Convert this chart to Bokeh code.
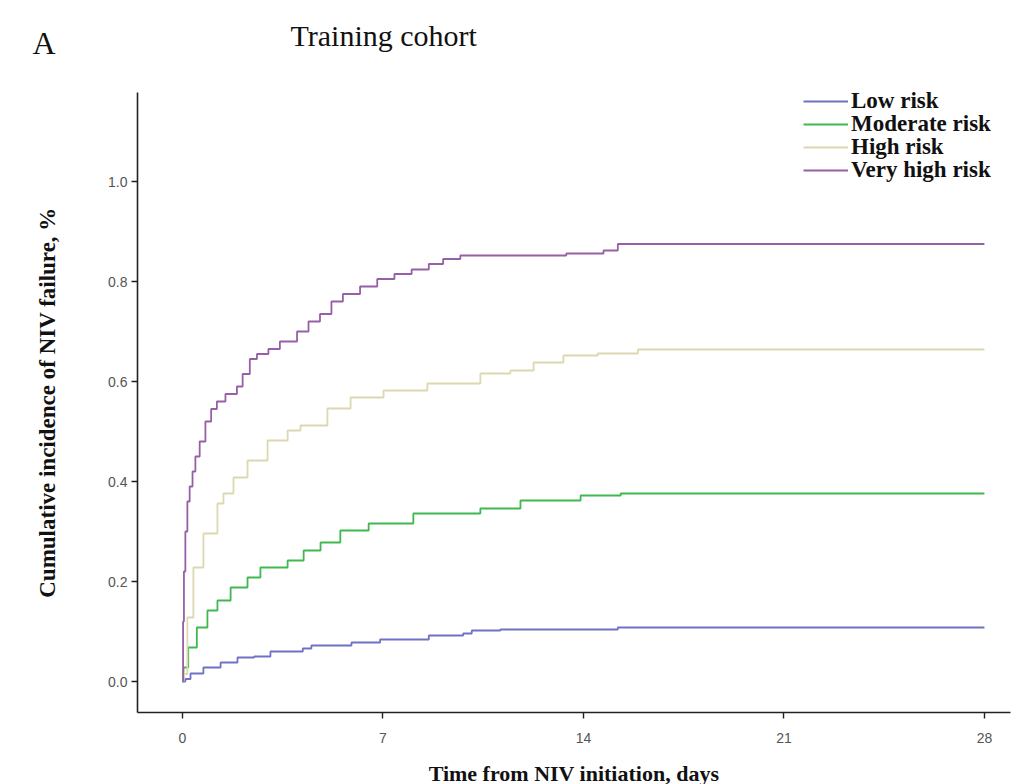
from bokeh.plotting import figure
from bokeh.models import Range1d, Label, Legend, LegendItem, FixedTicker
from bokeh.embed import file_html
from bokeh.resources import INLINE

# Cumulative incidence of NIV failure by risk group (step curves)
low_t = [0, 0.1, 0.28, 0.73, 1.33, 1.92, 2.5, 3.07, 4.2, 4.5, 5.9, 6.9, 8.6, 9.8, 10.1, 11.1, 15.2, 28]
low_y = [0, 0.005, 0.016, 0.028, 0.038, 0.048, 0.050, 0.060, 0.066, 0.072, 0.078, 0.084, 0.092, 0.096, 0.102, 0.104, 0.108, 0.108]

mod_t = [0, 0.035, 0.2, 0.5, 0.87, 1.22, 1.68, 2.27, 2.72, 3.67, 4.23, 4.82, 5.51, 6.5, 8.06, 10.4, 11.8, 13.9, 15.3, 28]
mod_y = [0, 0.028, 0.068, 0.108, 0.142, 0.162, 0.188, 0.208, 0.228, 0.242, 0.262, 0.278, 0.302, 0.316, 0.336, 0.346, 0.362, 0.372, 0.376, 0.376]

high_t = [0, 0.035, 0.17, 0.38, 0.73, 1.22, 1.43, 1.78, 2.27, 2.97, 3.67, 4.12, 5.06, 5.87, 7.02, 8.55, 10.4, 11.45, 12.26, 13.3, 14.5, 15.9, 28]
high_y = [0, 0.015, 0.128, 0.228, 0.296, 0.356, 0.376, 0.408, 0.442, 0.482, 0.502, 0.512, 0.546, 0.568, 0.582, 0.596, 0.616, 0.622, 0.638, 0.652, 0.656, 0.664, 0.664]

vhigh_t = [0, 0.02, 0.05, 0.1, 0.17, 0.25, 0.35, 0.45, 0.6, 0.8, 1.0, 1.2, 1.5, 1.9, 2.1, 2.35, 2.6, 3.0, 3.4, 4.0, 4.4,
           4.8, 5.2, 5.6, 6.2, 6.8, 7.4, 8.0, 8.6, 9.1, 9.7, 13.4, 14.7, 15.2, 28]
vhigh_y = [0, 0.12, 0.22, 0.30, 0.36, 0.39, 0.42, 0.45, 0.48, 0.52, 0.545, 0.56, 0.575, 0.59, 0.615, 0.645, 0.655, 0.665,
           0.68, 0.70, 0.72, 0.735, 0.76, 0.775, 0.79, 0.805, 0.815, 0.824, 0.835, 0.845, 0.852, 0.856, 0.862, 0.875, 0.875]

series_names = ["Low risk", "Moderate risk", "High risk", "Very high risk"]
series_colors = ["#6e72c6", "#3fb84e", "#dcd8b0", "#975fa6"]

x_ticks = [0, 7, 14, 21, 28]
y_ticks = [0.0, 0.2, 0.4, 0.6, 0.8, 1.0]

# extent of the drawn axes (data units)
X_AXIS_SPAN = (-1.571, 28.91)
Y_AXIS_SPAN = (-0.062, 1.178)

serif = "Liberation Serif"
narrow = "'Liberation Sans Narrow', 'Liberation Sans', sans-serif"

# the frame fills the whole canvas; axes sit at fixed positions inside it
p = figure(width=1017, height=784, output_backend="svg", toolbar_location=None,
           x_range=Range1d(-6.355, 29.155), y_range=Range1d(-0.206, 1.362),
           min_border=0)
p.outline_line_color = None
p.grid.grid_line_color = None
p.background_fill_color = "white"

renderers = []
for t, y, c in zip([low_t, mod_t, high_t, vhigh_t], [low_y, mod_y, high_y, vhigh_y], series_colors):
    r = p.step(t, y, mode="after", line_color=c, line_width=1.8)
    renderers.append(r)

for ax in (p.xaxis[0], p.yaxis[0]):
    ax.axis_line_color = "#222222"
    ax.axis_line_width = 1.6
    ax.major_tick_line_color = "#222222"
    ax.major_tick_line_width = 1.4
    ax.major_tick_out = 6
    ax.major_tick_in = 0
    ax.minor_tick_line_color = None
    ax.major_label_text_font = narrow
    ax.major_label_text_font_size = "14px"
    ax.major_label_text_color = "#555555"
    ax.axis_label_text_font = serif
    ax.axis_label_text_font_style = "bold"
    ax.axis_label_text_color = "#111111"

p.xaxis.axis_label_text_font_size = "22px"
p.yaxis.axis_label_text_font_size = "23px"
p.xaxis.fixed_location = Y_AXIS_SPAN[0]
p.yaxis.fixed_location = X_AXIS_SPAN[0]
p.xaxis.bounds = X_AXIS_SPAN
p.yaxis.bounds = Y_AXIS_SPAN
p.xaxis.ticker = FixedTicker(ticks=x_ticks)
p.yaxis.ticker = FixedTicker(ticks=y_ticks)
p.yaxis.major_label_overrides = {v: f"{v:.1f}" for v in y_ticks}
p.xaxis.major_label_standoff = 14
p.yaxis.major_label_standoff = 4
p.xaxis.axis_label = "Time from NIV initiation, days"
p.yaxis.axis_label = "Cumulative incidence of NIV failure, %"
p.xaxis.axis_label_standoff = 15
p.yaxis.axis_label_standoff = 45

# one legend row per group, stacked at a fixed 23 px pitch
legend_bottoms = [670, 647, 624, 601]
for name, r, yb in zip(series_names, renderers, legend_bottoms):
    lg = Legend(items=[LegendItem(label=name, renderers=[r])],
                location=(803, yb), glyph_width=45, glyph_height=18, label_height=18,
                spacing=0, padding=0, margin=0, label_standoff=3,
                label_text_font=serif, label_text_font_style="bold", label_text_font_size="23px",
                label_text_color="#111111", background_fill_alpha=0, border_line_color=None)
    p.add_layout(lg)

p.add_layout(Label(x=290, y=749, x_units="screen", y_units="screen", text="Training cohort",
                   text_font=serif, text_font_size="30px", text_baseline="middle", text_color="#111111"))
p.add_layout(Label(x=32, y=742, x_units="screen", y_units="screen", text="A",
                   text_font=serif, text_font_size="32px", text_baseline="middle", text_color="#111111"))

open("out.html", "w").write(file_html(p, INLINE))
